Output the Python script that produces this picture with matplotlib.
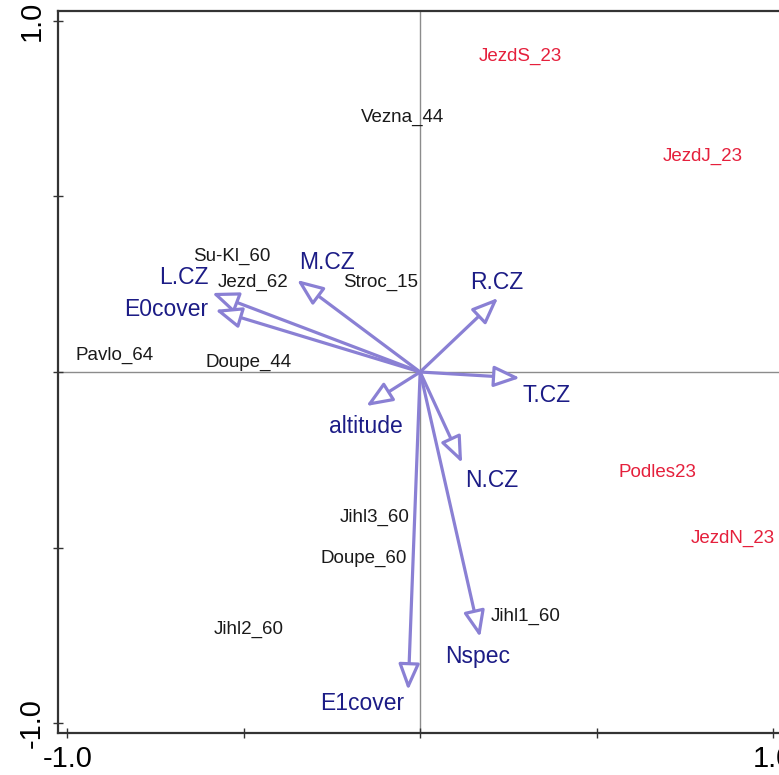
import matplotlib
matplotlib.use('Agg')
import matplotlib.pyplot as plt

# environmental vectors (biplot arrows)
envNames = ['L.CZ', 'E0cover', 'M.CZ', 'R.CZ', 'T.CZ', 'altitude', 'N.CZ', 'Nspec', 'E1cover']
envX = [-0.590, -0.581, -0.349, 0.221, 0.283, -0.153, 0.119, 0.170, -0.034]
envY = [0.225, 0.177, 0.262, 0.211, -0.017, -0.097, -0.259, -0.755, -0.906]
# where the vector names sit
envLabX = [-0.669, -0.720, -0.264, 0.218, 0.357, -0.153, 0.204, 0.164, -0.164]
envLabY = [0.268, 0.177, 0.313, 0.254, -0.066, -0.154, -0.308, -0.809, -0.943]

# site scores
siteNames = ['Vezna_44', 'Su-Kl_60', 'Jezd_62', 'Stroc_15', 'Pavlo_64', 'Doupe_44',
             'Jihl3_60', 'Doupe_60', 'Jihl2_60', 'Jihl1_60']
siteX = [-0.051, -0.533, -0.473, -0.111, -0.865, -0.485, -0.130, -0.159, -0.485, 0.298]
siteY = [0.726, 0.328, 0.256, 0.256, 0.048, 0.028, -0.413, -0.530, -0.732, -0.695]

# 2023 sites highlighted in red
newNames = ['JezdS_23', 'JezdJ_23', 'Podles23', 'JezdN_23']
newX = [0.283, 0.802, 0.672, 0.887]
newY = [0.900, 0.613, -0.285, -0.473]

ticks = [-1.0, -0.5, 0.0, 0.5, 1.0]
tickLabels = ['-1.0', '', '', '', '1.0']

plt.rcParams['font.family'] = ['Liberation Sans', 'DejaVu Sans']

arrowCol = '#8a80d4'
envCol = '#1c1c86'
newCol = '#e5203c'

fig = plt.figure(figsize=(7.79, 7.75), dpi=100)
ax = fig.add_axes([57.5 / 779, 42.0 / 775, 725.3 / 779, 722.0 / 775])
ax.set_xlim(-1.028, 1.028)
ax.set_ylim(-1.028, 1.028)

ax.axhline(0, color='#8c8c8c', lw=1.0, zorder=1)
ax.axvline(0, color='#8c8c8c', lw=1.0, zorder=1)

for i in range(len(envNames)):
    ax.annotate('', xy=(envX[i], envY[i]), xytext=(0, 0),
                arrowprops=dict(arrowstyle='-|>,head_length=16,head_width=6.5',
                                mutation_scale=1, shrinkA=0, shrinkB=0,
                                fc='white', ec=arrowCol, lw=2.3), zorder=3)
    ax.text(envLabX[i], envLabY[i], envNames[i], color=envCol, fontsize=16.5,
            ha='center', va='center', zorder=4)

for i in range(len(siteNames)):
    ax.text(siteX[i], siteY[i], siteNames[i], color='#1a1a1a', fontsize=13.5,
            ha='center', va='center', zorder=4)

for i in range(len(newNames)):
    ax.text(newX[i], newY[i], newNames[i], color=newCol, fontsize=13.5,
            ha='center', va='center', zorder=4)

ax.set_xticks(ticks)
ax.set_xticklabels(tickLabels)
ax.set_yticks(ticks)
ax.set_yticklabels(tickLabels, rotation=90, va='center')
ax.tick_params(direction='inout', length=7, width=1.0, color='#333333',
               labelsize=21, pad=5)
for s in ax.spines.values():
    s.set_color('#333333')
    s.set_linewidth(1.6)

fig.savefig('out.png', dpi=100)
